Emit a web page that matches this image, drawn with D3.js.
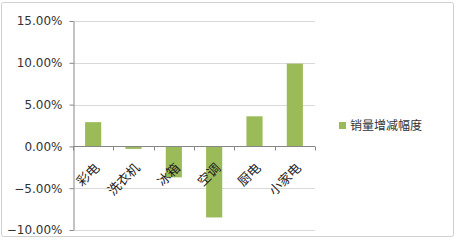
<!DOCTYPE html>
<html><head><meta charset="utf-8">
<script src="https://cdn.jsdelivr.net/npm/d3@7"></script>
<style>body{margin:0;background:#fff}</style>
</head><body>
<svg id="c" width="456" height="240"></svg>
<script>
const categories = ["彩电","洗衣机","冰箱","空调","厨电","小家电"];
const values = [0.029, -0.003, -0.037, -0.085, 0.036, 0.099];
const yTicks = [-0.10, -0.05, 0, 0.05, 0.10, 0.15];
const seriesName = "销量增减幅度";

(function(){
const svg = d3.select("#c");
svg.append("rect").attr("x",1.5).attr("y",2.5).attr("width",452).attr("height",234)
  .attr("fill","#fff").attr("stroke","#d0d0d0").attr("rx",2);

const pL = 73, pR = 315, pT = 21, pB = 230;
const x = d3.scaleBand().domain(categories).range([pL, pR]).paddingInner(0.6).paddingOuter(0.3);
const y = d3.scaleLinear().domain([-0.10, 0.15]).range([pB, pT]);

// gridlines
svg.append("g").selectAll("line").data(yTicks).join("line")
  .attr("x1", pL).attr("x2", pR)
  .attr("y1", d => Math.round(y(d))+0.5).attr("y2", d => Math.round(y(d))+0.5)
  .attr("stroke", "#d9d9d9");

// bars
svg.append("g").selectAll("rect").data(values).join("rect")
  .attr("x", (d,i) => x(categories[i]))
  .attr("width", x.bandwidth())
  .attr("y", d => y(Math.max(0,d)))
  .attr("height", d => Math.abs(y(d) - y(0)))
  .attr("fill", "#9bbb59");

// y axis
const ya = svg.append("g").attr("transform", `translate(${pL+0.5},0)`)
  .call(d3.axisLeft(y).tickValues(yTicks).tickSize(4).tickSizeOuter(0).tickFormat(d3.format(".2%")));
ya.select(".domain").attr("stroke", "#868686");
ya.selectAll(".tick line").attr("stroke", "#868686");
ya.selectAll(".tick text").attr("font-family","DejaVu Sans").attr("font-size","12px").attr("fill","#333").attr("x",-11);

// x axis
const x0 = Math.round(y(0))+0.5;
svg.append("line").attr("x1", pL).attr("x2", pR).attr("y1", x0).attr("y2", x0).attr("stroke","#868686");
const bounds = d3.range(categories.length+1).map(i => pL + (pR-pL)*i/categories.length);
svg.append("g").selectAll("line").data(bounds).join("line")
  .attr("x1", d => Math.round(d)+0.5).attr("x2", d => Math.round(d)+0.5)
  .attr("y1", x0).attr("y2", x0+4).attr("stroke","#868686");

svg.append("g").selectAll("text").data(categories).join("text")
  .attr("transform", d => `translate(${x(d)+x.bandwidth()/2+4},${x0+19}) rotate(-45)`)
  .attr("text-anchor","end").attr("dy","0.35em")
  .attr("font-family","Noto Sans CJK SC").attr("font-size","13px").attr("fill","#222")
  .text(d => d);

// legend
svg.append("rect").attr("x",339).attr("y",122).attr("width",7).attr("height",7).attr("fill","#9bbb59");
svg.append("text").attr("x",350).attr("y",125.5).attr("dy","0.35em")
  .attr("font-family","Noto Sans CJK SC").attr("font-size","12px").attr("fill","#333")
  .text(seriesName);
})();
</script>
</body></html>
